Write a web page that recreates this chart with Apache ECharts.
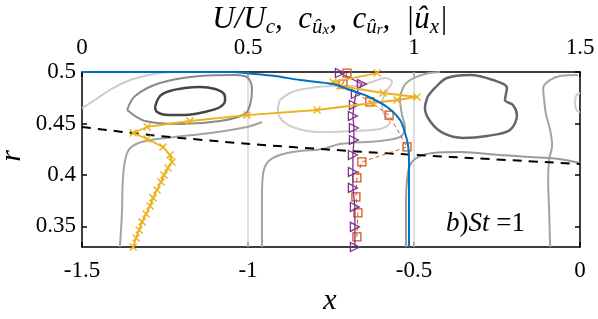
<!DOCTYPE html>
<html><head><meta charset="utf-8">
<script src="https://cdn.jsdelivr.net/npm/echarts@6/dist/echarts.min.js"></script>
<style>html,body{margin:0;padding:0;background:#fff}#c{width:598px;height:319px}</style>
</head><body><div id="c"></div>
<script>
// ---- axis ticks ----
const rTicks = [0.35, 0.4, 0.45, 0.5];
const xRefLines = [-1, -0.5];

// ---- profiles on top axis (value, r) ----
const blueProfile = [[0,0.5],[0.45,0.5],[0.506,0.4985],[0.581,0.4961],[0.657,0.4922],[0.756,0.4883],[0.807,0.4825],[0.858,0.4767],[0.919,0.466],[0.958,0.4534],[0.973,0.4408],[0.982,0.4291],[0.985,0.4146],[0.985,0.33]];
const yellowProfile = [[0.154,0.330],[0.163,0.3388],[0.172,0.3466],[0.181,0.3544],[0.193,0.3621],[0.205,0.3699],[0.214,0.3777],[0.226,0.3854],[0.238,0.3932],[0.247,0.4],[0.259,0.4068],[0.271,0.4126],[0.265,0.4194],[0.244,0.4272],[0.196,0.4349],[0.154,0.4408],[0.196,0.4466],[0.325,0.4524],[0.497,0.4582],[0.708,0.4631],[0.876,0.4699],[0.949,0.4728],[1.009,0.4757],[0.907,0.4796],[0.777,0.4864],[0.756,0.4903],[0.889,0.499]];
const purpleProfile = [[0.777,0.499],[0.843,0.4883],[0.825,0.4786],[0.819,0.468],[0.816,0.4573],[0.819,0.4456],[0.819,0.434],[0.816,0.4194],[0.816,0.4029],[0.816,0.3874],[0.822,0.3689],[0.822,0.3495],[0.822,0.33]];
const orangeProfile = [[0.798,0.499],[0.786,0.4883],[0.867,0.4709],[0.925,0.4582],[0.979,0.4272],[0.843,0.4126],[0.828,0.3971],[0.825,0.3786],[0.831,0.3631],[0.828,0.3398]];

// ---- field lines on bottom axis (x, r) ----
const dashedLine = [[-1.5,0.4466],[-1.295,0.4388],[-0.994,0.4301],[-0.693,0.4233],[-0.392,0.4175],[0,0.4107]];
const contourLightTopLeft = [[-1.5,0.465],[-1.461,0.4728],[-1.416,0.4825],[-1.370,0.4903],[-1.325,0.4951],[-1.265,0.499],[-1.220,0.5]];
const contourDarkEllipse = [[-1.280,0.466],[-1.265,0.4767],[-1.235,0.4816],[-1.190,0.4845],[-1.145,0.4854],[-1.099,0.4835],[-1.072,0.4786],[-1.069,0.4728],[-1.084,0.466],[-1.130,0.4612],[-1.190,0.4582],[-1.241,0.4582],[-1.274,0.4612],[-1.280,0.466]];
const contourDarkRight = [[-0.458,0.4767],[-0.437,0.4845],[-0.401,0.4942],[-0.331,0.4971],[-0.262,0.4922],[-0.220,0.4845],[-0.226,0.4728],[-0.202,0.468],[-0.190,0.4582],[-0.211,0.4437],[-0.280,0.4379],[-0.352,0.4359],[-0.413,0.4408],[-0.452,0.4524],[-0.467,0.465],[-0.458,0.4767]];
const contourMidLoop = [[-1.364,0.4631],[-1.340,0.4767],[-1.265,0.4893],[-1.145,0.4961],[-1.039,0.4971],[-1.0,0.4942],[-0.988,0.4825],[-0.994,0.468],[-1.009,0.4592],[-1.084,0.4524],[-1.205,0.4495],[-1.310,0.4524],[-1.364,0.4631]];
const contourLeft = [[-1.386,0.33],[-1.380,0.3611],[-1.377,0.3951],[-1.370,0.4146],[-1.355,0.4262],[-1.310,0.433],[-1.220,0.4369],[-1.114,0.4408],[-1.003,0.4466],[-0.958,0.4514]];
const contourCenter = [[-0.958,0.33],[-0.958,0.3757],[-0.955,0.4],[-0.940,0.4126],[-0.904,0.4194],[-0.843,0.4233],[-0.774,0.4252],[-0.723,0.4301],[-0.602,0.433],[-0.542,0.4369],[-0.527,0.4456],[-0.536,0.4582],[-0.542,0.4728],[-0.530,0.4864],[-0.506,0.4932],[-0.467,0.4981],[-0.422,0.5]];
const contourLightCenter = [[-0.904,0.4728],[-0.867,0.4806],[-0.813,0.4845],[-0.738,0.4864],[-0.678,0.4864],[-0.627,0.4903],[-0.587,0.4942],[-0.566,0.4903],[-0.584,0.4806],[-0.596,0.4709],[-0.593,0.4611],[-0.572,0.4514],[-0.602,0.4446],[-0.693,0.4427],[-0.783,0.4417],[-0.858,0.4456],[-0.898,0.4534],[-0.910,0.4631],[-0.904,0.4728]];
const contourRightLow = [[-0.524,0.33],[-0.524,0.3757],[-0.521,0.3951],[-0.512,0.4097],[-0.488,0.4174],[-0.443,0.4213],[-0.361,0.4223],[-0.241,0.4194],[-0.151,0.4174],[-0.090,0.4165],[-0.045,0.4146],[0.0,0.4116]];
const contourRightEdge = [[-0.006,0.4971],[-0.060,0.4961],[-0.090,0.4922],[-0.111,0.4845],[-0.108,0.4728],[-0.102,0.4582],[-0.090,0.4437],[-0.084,0.4291],[-0.093,0.4146],[-0.096,0.3951],[-0.093,0.366],[-0.090,0.33]];
const contourRightFragment = [[0,0.4796],[-0.012,0.4767],[-0.015,0.4689],[-0.009,0.4621],[0,0.4611]];

const SERIF = '"Liberation Serif"';
const chart = echarts.init(document.getElementById('c'), null, {renderer: 'canvas'});

function contour(data, color, w) {
  return {type: 'line', xAxisIndex: 0, yAxisIndex: 0, data: data, showSymbol: false, smooth: 0.35,
    lineStyle: {color: color, width: w || 2}, silent: true, z: 2, animation: false};
}
const series = [];
xRefLines.forEach(v => series.push({type: 'line', xAxisIndex: 0, yAxisIndex: 0, data: [[v,0.33],[v,0.5]], showSymbol: false,
  lineStyle: {color: '#d6d6d6', width: 1.5}, z: 1, animation: false, silent: true}));
series.push(contour(contourLightTopLeft, '#cbcbcb'));
series.push(contour(contourLightCenter, '#cfcfcf'));
series.push(contour(contourRightFragment, '#cfcfcf'));
series.push(contour(contourMidLoop, '#8a8a8a'));
series.push(contour(contourLeft, '#a3a3a3'));
series.push(contour(contourCenter, '#a3a3a3'));
series.push(contour(contourRightLow, '#9a9a9a'));
series.push(contour(contourRightEdge, '#a3a3a3'));
series.push(contour(contourDarkEllipse, '#454545', 2.5));
series.push(contour(contourDarkRight, '#666666', 2.5));
series.push({type: 'line', xAxisIndex: 0, yAxisIndex: 0, data: dashedLine, showSymbol: false, smooth: 0.3,
  lineStyle: {color: '#000', width: 2, type: [9, 7]}, z: 3, animation: false});
series.push({type: 'line', xAxisIndex: 1, yAxisIndex: 0, data: orangeProfile, symbol: 'rect', symbolSize: 8,
  lineStyle: {color: '#D95319', width: 1, type: [4, 3]}, itemStyle: {color: 'rgba(255,255,255,0)', borderColor: '#D95319', borderWidth: 1.3}, z: 5, animation: false});
series.push({type: 'line', xAxisIndex: 1, yAxisIndex: 0, data: purpleProfile, symbol: 'triangle', symbolRotate: -90, symbolSize: 9,
  lineStyle: {color: '#7E2F8E', width: 1.3}, itemStyle: {color: 'rgba(255,255,255,0)', borderColor: '#7E2F8E', borderWidth: 1.3}, z: 6, animation: false});
series.push({type: 'line', xAxisIndex: 1, yAxisIndex: 0, data: yellowProfile, symbol: 'path://M0,0L10,10M10,0L0,10', symbolSize: 7,
  lineStyle: {color: '#EDB120', width: 1.8}, itemStyle: {color: 'rgba(0,0,0,0)', borderColor: '#EDB120', borderWidth: 1.5}, z: 7, animation: false});
series.push({type: 'line', xAxisIndex: 1, yAxisIndex: 0, data: blueProfile, showSymbol: false, smooth: 0.3,
  lineStyle: {color: '#0072BD', width: 2}, z: 8, animation: false});

const axisCommon = {
  axisLine: {show: true, onZero: false, lineStyle: {color: '#000', width: 1.5}},
  axisTick: {show: true, inside: true, length: 5, lineStyle: {color: '#000', width: 1.5}},
  splitLine: {show: false},
  axisLabel: {color: '#000', fontFamily: SERIF, fontSize: 23}
};
const option = {
  backgroundColor: '#fff',
  animation: false,
  grid: {left: 82, right: 18, top: 72, bottom: 72, containLabel: false},
  xAxis: [
    Object.assign({}, axisCommon, {type: 'value', position: 'bottom', min: -1.5, max: 0, interval: 0.5,
      axisLabel: Object.assign({}, axisCommon.axisLabel, {margin: 12})}),
    Object.assign({}, axisCommon, {type: 'value', position: 'top', min: 0, max: 1.5, interval: 0.5,
      axisLabel: Object.assign({}, axisCommon.axisLabel, {margin: 13})})
  ],
  yAxis: [
    Object.assign({}, axisCommon, {type: 'value', position: 'left', min: 0.33, max: 0.5,
      axisTick: Object.assign({}, axisCommon.axisTick, {customValues: rTicks}),
      axisLabel: Object.assign({}, axisCommon.axisLabel, {margin: 6, customValues: rTicks, formatter: v => String(+(+v).toFixed(2))})}),
    Object.assign({}, axisCommon, {type: 'value', position: 'right', min: 0.33, max: 0.5,
      axisTick: Object.assign({}, axisCommon.axisTick, {customValues: rTicks}),
      axisLabel: {show: false}})
  ],
  graphic: [
    {type: 'text', x: 330, y: 21, z: 100, style: {
      text: '{m|U/U}{s|c}{m|,  c}{s|û}{t|x}{m|,  c}{s|û}{t|r}{m|,  |û}{s|x}{m||}',
      align: 'center', verticalAlign: 'middle', fill: '#000',
      rich: {
        m: {fontFamily: SERIF, fontStyle: 'italic', fontSize: 31, lineHeight: 34, verticalAlign: 'top', fill: '#000'},
        s: {fontFamily: SERIF, fontStyle: 'italic', fontSize: 21, lineHeight: 22, verticalAlign: 'bottom', fill: '#000'},
        t: {fontFamily: SERIF, fontStyle: 'italic', fontSize: 15, lineHeight: 9, verticalAlign: 'bottom', fill: '#000'}
      }}},
    {type: 'text', x: 330, y: 301, z: 100, style: {text: 'x', font: 'italic 30px ' + SERIF, fill: '#000', align: 'center', verticalAlign: 'middle'}},
    {type: 'text', x: 12, y: 156, rotation: Math.PI / 2, z: 100, style: {text: 'r', font: 'italic 30px ' + SERIF, fill: '#000', align: 'center', verticalAlign: 'middle'}},
    {type: 'text', x: 446, y: 224, z: 100, style: {
      text: '{i|b}{n|)}{i|St}{n| =1}', align: 'left', verticalAlign: 'middle', fill: '#000',
      rich: {
        i: {fontFamily: SERIF, fontStyle: 'italic', fontSize: 27, fill: '#000'},
        n: {fontFamily: SERIF, fontSize: 27, fill: '#000'}
      }}}
  ],
  series: series
};
chart.setOption(option);
</script>
</body></html>
